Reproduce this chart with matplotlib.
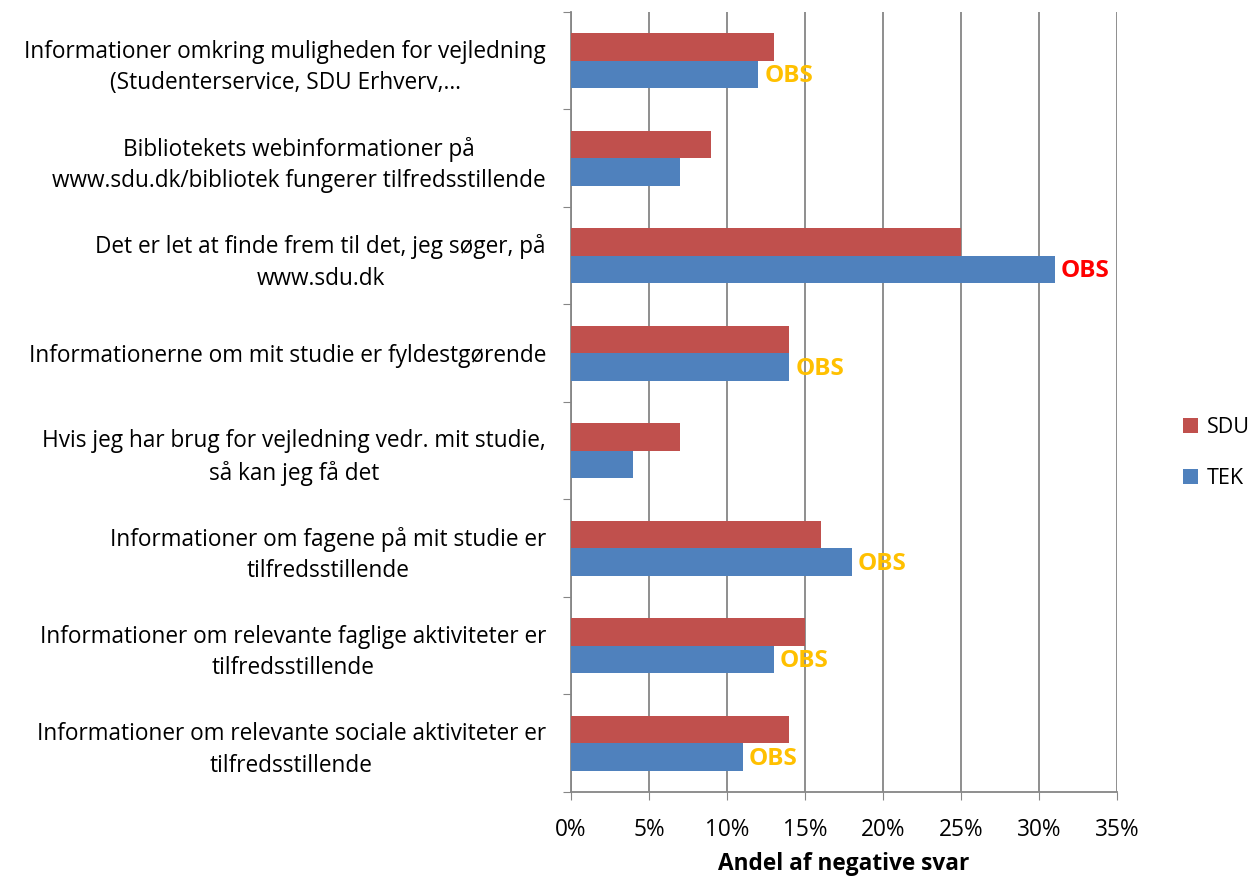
import numpy as np
import matplotlib.pyplot as plt
from matplotlib.ticker import MultipleLocator, PercentFormatter

plt.rcParams['font.family'] = ['Open Sans', 'DejaVu Sans']

# categories, top to bottom
labels = ['Informationer omkring muligheden for vejledning\n(Studenterservice, SDU Erhverv,…',
          'Bibliotekets webinformationer på\nwww.sdu.dk/bibliotek fungerer tilfredsstillende',
          'Det er let at finde frem til det, jeg søger, på\nwww.sdu.dk',
          'Informationerne om mit studie er fyldestgørende',
          'Hvis jeg har brug for vejledning vedr. mit studie,\nså kan jeg få det',
          'Informationer om fagene på mit studie er\ntilfredsstillende',
          'Informationer om relevante faglige aktiviteter er\ntilfredsstillende',
          'Informationer om relevante sociale aktiviteter er\ntilfredsstillende']
sdu = [13, 9, 25, 14, 7, 16, 15, 14]
tek = [12, 7, 31, 14, 4, 18, 13, 11]
obs = ['orange', None, 'red', 'orange', None, 'orange', 'orange', 'orange']

obs_colors = {'orange': '#FFC000', 'red': '#FF0000'}
fs = 16.3

fig = plt.figure(figsize=(12.53, 8.8), dpi=100)
ax = fig.add_axes([0.4557, 0.1, 0.4358, 0.8864])

y = np.arange(len(labels))[::-1] + 0.5
h = 0.28
ax.barh(y + h / 2, sdu, height=h, color='#C0504D', label='SDU', zorder=3)
ax.barh(y - h / 2, tek, height=h, color='#4F81BD', label='TEK', zorder=3)

for yi, v, o in zip(y, tek, obs):
    if o:
        ax.text(v + 0.4, yi - h / 2 - 0.02, 'OBS', color=obs_colors[o], fontweight='bold',
                fontsize=17.5, va='center', ha='left', zorder=4)

ax.set_xlim(0, 35)
ax.set_ylim(0, len(labels))
ax.xaxis.set_major_locator(MultipleLocator(5))
ax.xaxis.set_major_formatter(PercentFormatter(decimals=0))
ax.set_yticks(np.arange(len(labels) + 1))
ax.set_yticklabels([])
ax.set_yticks(y, minor=True)
ax.set_yticklabels(labels, minor=True, fontsize=fs, linespacing=1.42)
for t in ax.get_yticklabels(minor=True):
    t.set_multialignment('center')
ax.tick_params(axis='y', which='minor', length=0, pad=18)
ax.tick_params(axis='y', which='major', length=6, color='#868686', direction='out')
ax.tick_params(axis='x', length=6, color='#868686', labelsize=fs, pad=13)

ax.grid(axis='x', color='#868686', linewidth=1.3, zorder=0)
for s in ['top', 'right']:
    ax.spines[s].set_visible(False)
for s in ['left', 'bottom']:
    ax.spines[s].set_color('#868686')
    ax.spines[s].set_linewidth(1.3)

ax.set_xlabel('Andel af negative svar', fontweight='bold', fontsize=fs, labelpad=7)

handles, leg_labels = ax.get_legend_handles_labels()
fig.legend(handles, leg_labels, loc='center left', bbox_to_anchor=(0.944, 0.485),
           frameon=False, fontsize=15.5, handlelength=0.7, handleheight=0.7,
           labelspacing=1.4, handletextpad=0.4, borderpad=0, borderaxespad=0)

fig.savefig('out.png', dpi=100)
